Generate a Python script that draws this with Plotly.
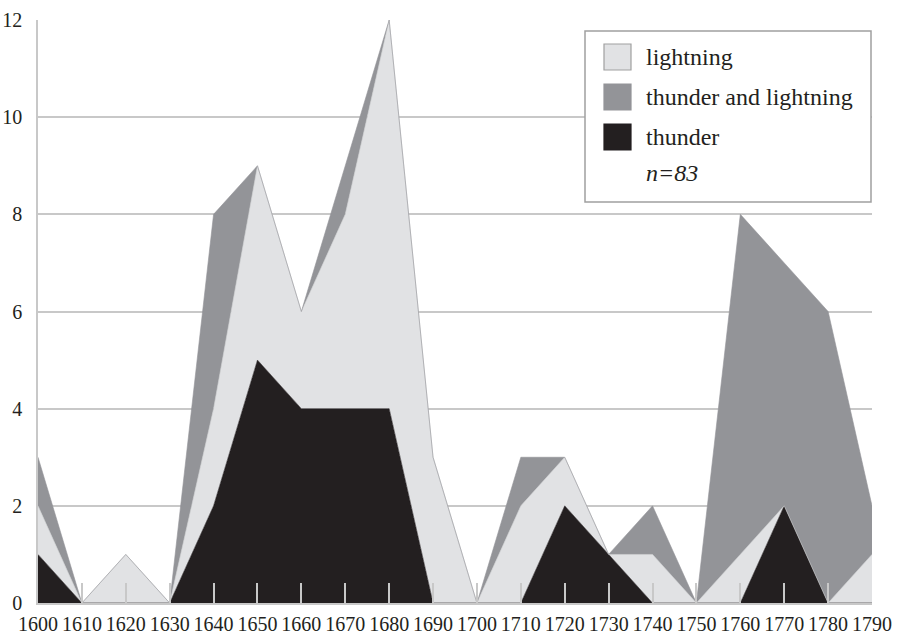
import plotly.graph_objects as go

years = [1600, 1610, 1620, 1630, 1640, 1650, 1660, 1670, 1680, 1690,
         1700, 1710, 1720, 1730, 1740, 1750, 1760, 1770, 1780, 1790]
thunder = [1, 0, 0, 0, 2, 5, 4, 4, 4, 0, 0, 0, 2, 1, 0, 0, 0, 2, 0, 0]
lightning = [1, 0, 1, 0, 2, 4, 2, 4, 8, 3, 0, 2, 1, 0, 1, 0, 1, 0, 0, 1]
thunder_and_lightning = [1, 0, 0, 0, 4, 0, 0, 1, 0, 0, 0, 1, 0, 0, 1, 0, 7, 5, 6, 1]
y_ticks = [0, 2, 4, 6, 8, 10, 12]
series_names = ["lightning", "thunder and lightning", "thunder"]
note = "n=83"

C_THUNDER = "#231f20"
C_TL = "#939498"
C_LIGHT = "#e1e2e4"
GRID = "#c8c8c8"
FONT = "'Liberation Serif', 'DejaVu Serif', serif"

W, H = 898, 635
L, R, T, B = 38, 26, 20, 32
PW, PH = W - L - R, H - T - B

def px(x):
    return (x - L) / PW

def py(y):
    return (H - B - y) / PH

fig = go.Figure()
fig.add_trace(go.Scatter(x=years, y=thunder, stackgroup="s", mode="lines",
                         line=dict(width=0.6, color=C_THUNDER), fillcolor=C_THUNDER,
                         name=series_names[2], hoverinfo="x+y"))
fig.add_trace(go.Scatter(x=years, y=lightning, stackgroup="s", mode="lines",
                         line=dict(width=0.6, color="#cfd0d2"), fillcolor=C_LIGHT,
                         name=series_names[0], hoverinfo="x+y"))
fig.add_trace(go.Scatter(x=years, y=thunder_and_lightning, stackgroup="s", mode="lines",
                         line=dict(width=0.6, color=C_TL), fillcolor=C_TL,
                         name=series_names[1], hoverinfo="x+y"))

fig.update_layout(
    width=W, height=H,
    margin=dict(l=L, r=R, t=T, b=B, pad=0, autoexpand=False),
    paper_bgcolor="white", plot_bgcolor="white",
    showlegend=False,
    font=dict(family=FONT, color=C_THUNDER, size=20),
    xaxis=dict(range=[1600, 1790], tickmode="array", tickvals=years,
               ticktext=[str(y) for y in years], tickangle=0, automargin=False,
               ticks="inside", ticklen=20, tickwidth=1.5, tickcolor=GRID,
               showgrid=False, showline=True, linecolor=GRID, linewidth=1.5,
               zeroline=False, tickfont=dict(size=20, family=FONT, color=C_THUNDER),
               ticklabelstandoff=2, layer="above traces"),
    yaxis=dict(range=[0, 12], tickmode="array", tickvals=y_ticks, automargin=False,
               showgrid=True, gridcolor=GRID, gridwidth=1.5,
               showline=True, linecolor=GRID, linewidth=1.5, zeroline=False,
               ticks="", ticklabelstandoff=10,
               tickfont=dict(size=20, family=FONT, color=C_THUNDER)),
)

shapes = [dict(type="rect", xref="paper", yref="paper",
               x0=px(585), x1=px(871), y0=py(202), y1=py(31),
               line=dict(color="#a0a0a0", width=1.5), fillcolor="white", layer="above")]
rows = [(57, C_LIGHT, "#a0a0a0"), (97, C_TL, C_TL), (137, C_THUNDER, C_THUNDER)]
for (cy, fc, lc), name in zip(rows, series_names):
    shapes.append(dict(type="rect", xref="paper", yref="paper",
                       x0=px(604), x1=px(631), y0=py(cy + 13), y1=py(cy - 13),
                       line=dict(color=lc, width=1.2), fillcolor=fc, layer="above"))
    fig.add_annotation(xref="paper", yref="paper", x=px(644), y=py(cy),
                       text=name, showarrow=False, xanchor="left", yanchor="middle",
                       font=dict(size=24, family=FONT, color=C_THUNDER))
fig.add_annotation(xref="paper", yref="paper", x=px(644), y=py(173),
                   text="<i>" + note + "</i>", showarrow=False, xanchor="left",
                   yanchor="middle", font=dict(size=24, family=FONT, color=C_THUNDER))
fig.update_layout(shapes=shapes)

fig.write_html("out.html", config={"displayModeBar": False},
               post_script="document.body.style.margin='0';document.body.style.overflow='hidden';")
